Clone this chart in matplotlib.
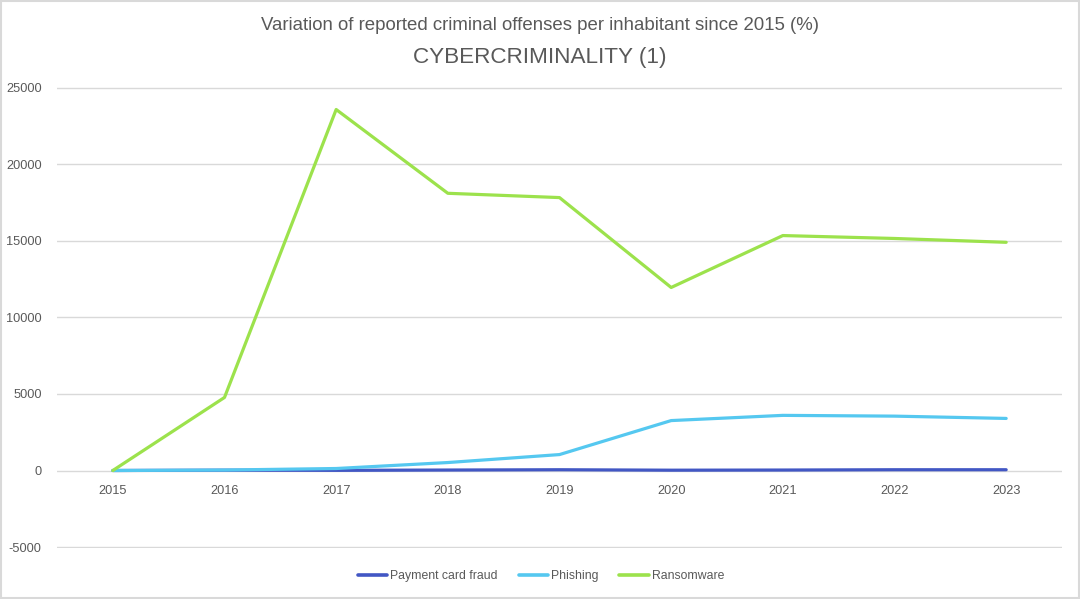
import matplotlib.pyplot as plt
from matplotlib.patches import Rectangle

years = ["2015", "2016", "2017", "2018", "2019", "2020", "2021", "2022", "2023"]
payment_card_fraud = [0, 20, 10, 30, 50, 20, 30, 50, 50]
phishing = [0, 30, 130, 520, 1040, 3260, 3600, 3550, 3400]
ransomware = [0, 4770, 23570, 18100, 17820, 11950, 15340, 15150, 14900]

series = [
    ("Payment card fraud", payment_card_fraud, "#4257c4"),
    ("Phishing", phishing, "#55c8f0"),
    ("Ransomware", ransomware, "#9ce24c"),
]

plt.rcParams['font.family'] = ['Liberation Sans', 'DejaVu Sans']
plt.rcParams['axes.unicode_minus'] = False

fig = plt.figure(figsize=(10.8, 5.99), dpi=100)
ax = fig.add_axes([57 / 1080, 1 - 548 / 599, 1005 / 1080, 461 / 599])

x = range(len(years))
for name, vals, col in series:
    ax.plot(x, vals, color=col, lw=2.3, label=name, solid_capstyle='round')

ax.set_xlim(-0.5, len(years) - 0.5)
ax.set_ylim(-5060, 25040)
ax.set_yticks(range(-5000, 25001, 5000))
ax.set_xticks(list(x))
ax.grid(axis='y', color='#d9d9d9', lw=1)
ax.set_axisbelow(True)
for s in ax.spines.values():
    s.set_visible(False)
ax.tick_params(length=0, labelsize=9.2, colors='#595959')
ax.tick_params(axis='y', pad=11)
ax.set_xticklabels([])
# category labels sit just under the zero line
for i, y in enumerate(years):
    ax.text(i, -950, y, ha='center', va='top', fontsize=9.2, color='#595959')

fig.text(0.5, 1 - 25 / 599, "Variation of reported criminal offenses per inhabitant since 2015 (%)",
         ha='center', va='center', fontsize=13.4, color='#595959')
fig.text(0.5, 1 - 57 / 599, "CYBERCRIMINALITY (1)",
         ha='center', va='center', fontsize=16.2, color='#595959')

leg = fig.legend(loc='center', bbox_to_anchor=(541 / 1080, 1 - 576 / 599), ncol=3, frameon=False,
                 fontsize=8.8, handlelength=2.4, columnspacing=1.7, handletextpad=0.25)
for t in leg.get_texts():
    t.set_color('#595959')
for h in leg.get_lines():
    h.set_linewidth(2.6)

fig.patches.append(Rectangle((0.001, 0.001), 0.998, 0.997, transform=fig.transFigure,
                             fill=False, edgecolor='#d9d9d9', lw=1.5))

fig.savefig("out.png", dpi=100)
